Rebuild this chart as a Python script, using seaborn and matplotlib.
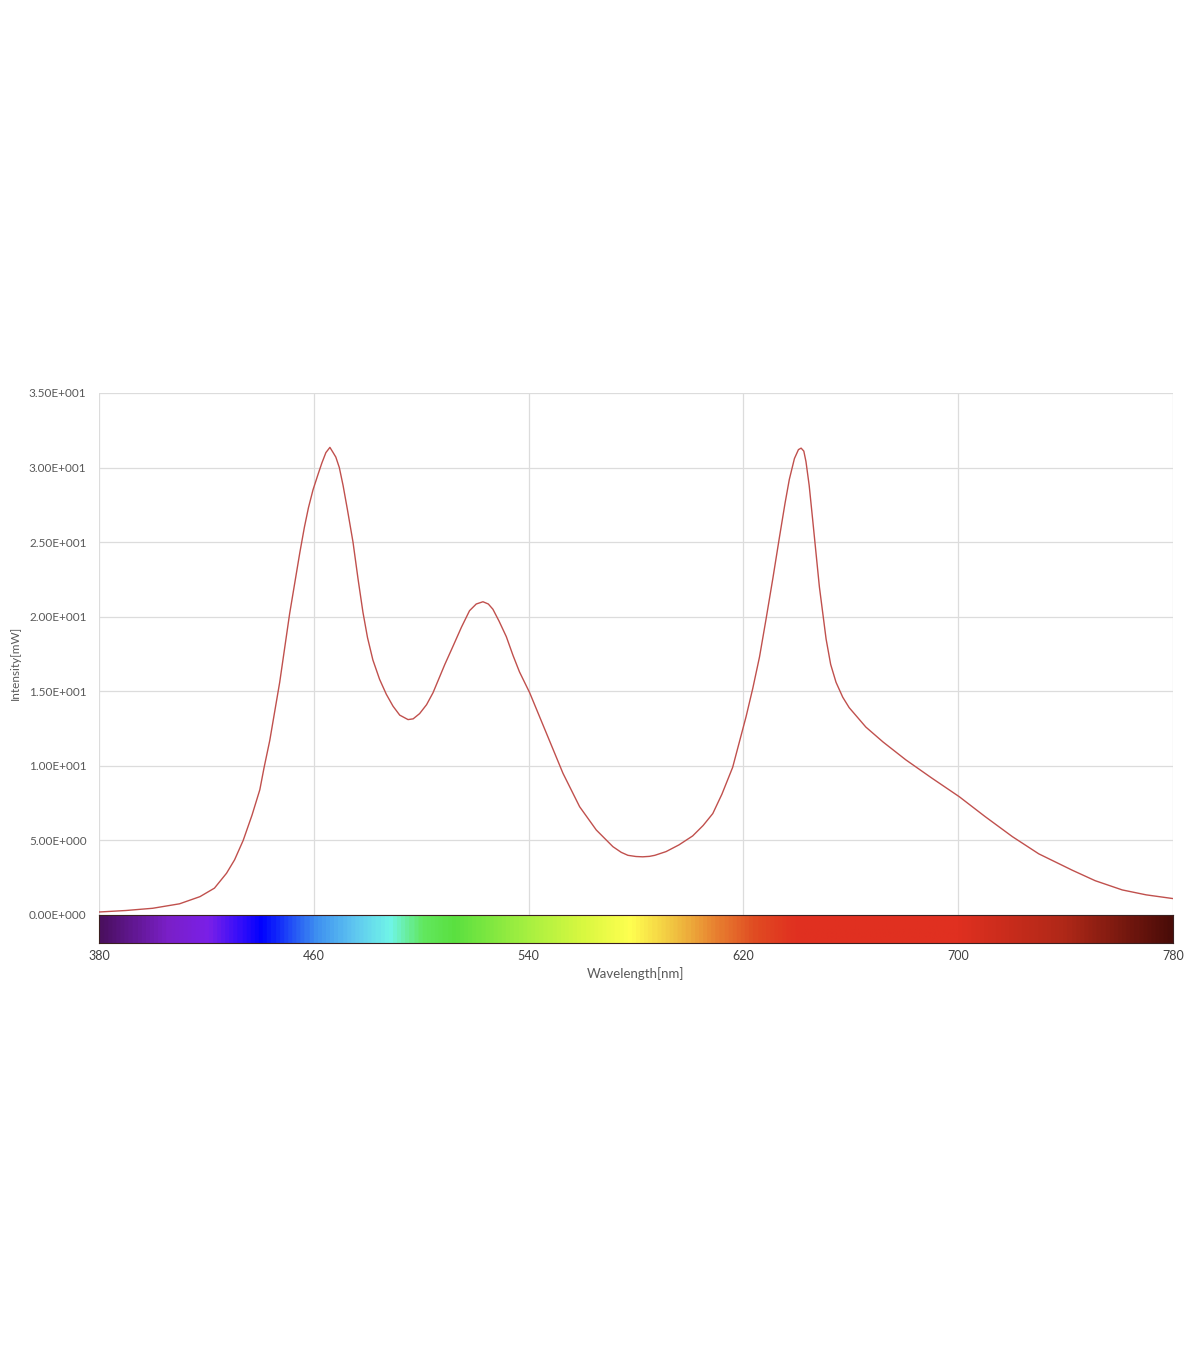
import numpy as np
import matplotlib
matplotlib.use("Agg")
import matplotlib.pyplot as plt
import seaborn as sns
from matplotlib.colors import LinearSegmentedColormap
from matplotlib.ticker import FuncFormatter

# spectrum readings (nm, mW)
wavelength = [380, 390, 400, 410, 417.6, 423, 427.5, 430.5, 433.7, 437,
              439.9, 441.5, 443.6, 447.3, 451, 454.8, 456.5, 458, 459.7, 461.5,
              463, 464.5, 466, 467.2, 468.2, 469.5, 470.9, 472.5, 474.6, 476.5,
              478.3, 480, 482, 484.5, 487, 489.5, 492, 495.1, 497, 499.4,
              502, 504.4, 508.8, 511.8, 515, 518, 520.5, 523, 525, 526.7,
              529, 531.7, 534.2, 536.6, 540.4, 546.6, 552.8, 559, 565.2, 571.4,
              574.5, 577, 580, 582.5, 585, 587, 591.2, 596, 601.1, 605,
              608.6, 612, 616, 618.5, 621, 623.5, 626, 628.4, 631, 633.4,
              635.5, 637.1, 639, 640.5, 641.5, 642.5, 643.3, 644.5, 645.8, 648.3,
              650.8, 652.5, 654.5, 657, 659.4, 665.6, 672, 680.5, 690, 700.4,
              710, 720.2, 730, 742.5, 751, 761.1, 770, 780]
intensity = [0.2, 0.3, 0.45, 0.75, 1.23, 1.8, 2.8, 3.7, 5.0, 6.7,
             8.4, 9.9, 11.7, 15.6, 20.2, 24.3, 26.0, 27.3, 28.5, 29.5,
             30.3, 31.0, 31.35, 31.0, 30.7, 30.0, 28.8, 27.2, 25.0, 22.5,
             20.3, 18.6, 17.1, 15.8, 14.8, 14.0, 13.4, 13.1, 13.15, 13.5,
             14.1, 14.9, 16.8, 18.0, 19.3, 20.4, 20.85, 21.0, 20.85, 20.5,
             19.7, 18.66, 17.4, 16.3, 14.9, 12.2, 9.5, 7.26, 5.7, 4.58,
             4.2, 4.0, 3.92, 3.9, 3.93, 4.0, 4.25, 4.7, 5.3, 6.0,
             6.8, 8.1, 9.9, 11.6, 13.3, 15.2, 17.3, 19.8, 22.6, 25.3,
             27.6, 29.2, 30.6, 31.2, 31.3, 31.1, 30.4, 28.8, 26.5, 22.0,
             18.5, 16.8, 15.6, 14.6, 13.9, 12.6, 11.6, 10.4, 9.2, 7.93,
             6.6, 5.25, 4.1, 3.0, 2.3, 1.68, 1.35, 1.1]

y_ticks = [0, 5, 10, 15, 20, 25, 30, 35]
x_ticks = [380, 460, 540, 620, 700, 780]

# colour stops of the spectrum strip
spec_nm = [380, 405, 420, 430, 440, 460, 475, 488, 500, 512, 540, 560, 578,
           595, 610, 625, 640, 700, 740, 780]
spec_colors = ["#4b1060", "#7a1fc8", "#7a20e8", "#4010f8", "#0000ff", "#3d8ef0",
               "#60c8f0", "#70f5e8", "#62e860", "#5ae040", "#a8f040", "#d8f840",
               "#ffff50", "#f0c040", "#e88030", "#e04a22", "#e03020", "#e03020",
               "#b02818", "#4a0c08"]


def excel_sci(v, pos):
    if v == 0:
        return "0.00E+000"
    e = int(np.floor(np.log10(abs(v))))
    m = v / 10 ** e
    return f"{m:.2f}E{'+' if e >= 0 else '-'}{abs(e):03d}"


sns.set_theme(style="whitegrid")
plt.rcParams["font.family"] = ["Lato", "DejaVu Sans"]

fig = plt.figure(figsize=(12, 13.72), dpi=100)
ax = fig.add_axes([0.0825, 0.3331, 0.895, 0.3805])
sns.lineplot(x=wavelength, y=intensity, ax=ax, color="#c0504d", lw=1.0)
ax.set_xlim(380, 780)
ax.set_ylim(0, 35)
ax.set_xticks(x_ticks)
ax.set_yticks(y_ticks)
ax.yaxis.set_major_formatter(FuncFormatter(excel_sci))
ax.tick_params(axis="x", labelbottom=False, length=0)
ax.tick_params(axis="y", length=0, pad=9, labelsize=8.5, labelcolor="#595959")
ax.grid(color="#dcdcdc", lw=0.9)
for s in ax.spines.values():
    s.set_visible(False)
ax.set_xlabel("")
ax.set_ylabel("")

# spectrum strip under the plot
cmap = LinearSegmentedColormap.from_list(
    "spec", [((n - 380) / 400, c) for n, c in zip(spec_nm, spec_colors)])
cax = fig.add_axes([0.0825, 0.3127, 0.895, 0.0204])
cax.imshow(np.linspace(0, 1, 800)[None, :], aspect="auto", cmap=cmap,
           extent=[380, 780, 0, 1])
cax.set_xlim(380, 780)
cax.set_xticks(x_ticks)
cax.set_yticks([])
cax.grid(False)
cax.tick_params(axis="x", length=0, pad=5, labelsize=9, labelcolor="#404040")
for s in cax.spines.values():
    s.set_color("#3a2020")
    s.set_linewidth(0.8)
cax.set_xlabel("Wavelength[nm]", fontsize=9.5, color="#595959", labelpad=4)

fig.text(0.0125, 0.5168, "Intensity[mW]", rotation=90, ha="center", va="center",
         fontsize=8.5, color="#595959")

fig.savefig("out.png", dpi=100)
